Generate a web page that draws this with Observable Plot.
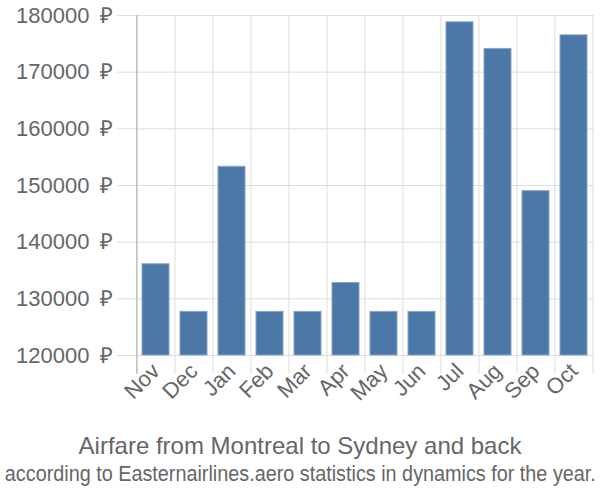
<!DOCTYPE html>
<html>
<head>
<meta charset="utf-8">
<script src="https://cdn.jsdelivr.net/npm/d3@7"></script>
<script src="https://cdn.jsdelivr.net/npm/@observablehq/plot@0.6"></script>
<style>
  html, body { margin: 0; padding: 0; background: #fff; }
  body { width: 600px; font-family: "Liberation Sans", Arial, sans-serif; color: #666; overflow: hidden; }
  #title { text-align: center; font-size: 24px; line-height: 28px; padding-top: 12px; white-space: nowrap; }
  #subtitle { display: flex; justify-content: center; width: 600px; font-size: 22px; line-height: 26px; margin-top: 1px; white-space: nowrap; }
  #subtitle span { flex: none; transform: scaleX(0.9); transform-origin: center; }
</style>
</head>
<body>
<div id="chart"></div>
<div id="title">Airfare from Montreal to Sydney and back</div>
<div id="subtitle"><span>according to Easternairlines.aero statistics in dynamics for the year.</span></div>
<script>
const months = ["Nov", "Dec", "Jan", "Feb", "Mar", "Apr", "May", "Jun", "Jul", "Aug", "Sep", "Oct"];
const prices = [136100, 127700, 153300, 127700, 127700, 132800, 127700, 127700, 178800, 174100, 149000, 176500];
const yTicks = [120000, 130000, 140000, 150000, 160000, 170000, 180000];

const data = months.map((m, i) => ({month: m, price: prices[i]}));

const W = 600, H = 420, ML = 136, MR = 6, MT = 15, MB = 65;
const step = (W - ML - MR) / months.length;

const chart = Plot.plot({
  width: W,
  height: H,
  marginLeft: ML,
  marginRight: MR,
  marginTop: MT,
  marginBottom: MB,
  style: {fontFamily: "'Liberation Sans', Arial, sans-serif", color: "#666", background: "#fff", overflow: "visible"},
  x: {domain: months, paddingInner: 0.28, paddingOuter: 0.14, label: null},
  y: {domain: [120000, 180000], label: null},
  marks: [
    Plot.ruleY(yTicks, {stroke: "#ddd", strokeWidth: 1, insetLeft: -19}),
    Plot.ruleX(months, {x: d => d, dx: -step / 2, stroke: "#ddd", strokeWidth: 1, insetBottom: -19}),
    Plot.ruleX([months[months.length - 1]], {x: d => d, dx: step / 2, stroke: "#ddd", strokeWidth: 1, insetBottom: -19}),
    Plot.ruleX([months[0]], {x: d => d, dx: -step / 2, stroke: "#aaa", strokeWidth: 1, insetBottom: -19}),
    Plot.barY(data, {x: "month", y1: 120000, y2: "price", fill: "#4c78a8", stroke: "#86a5c9", strokeWidth: 1}),
    Plot.axisY({ticks: yTicks, tickSize: 0, tickPadding: 23, tickFormat: d => d + "\u2002₽", fontSize: 22, label: null}),
    Plot.axisX({tickSize: 0, tickPadding: 12, tickRotate: -45, fontSize: 22, label: null})
  ]
});
document.getElementById("chart").appendChild(chart);
</script>
</body>
</html>
